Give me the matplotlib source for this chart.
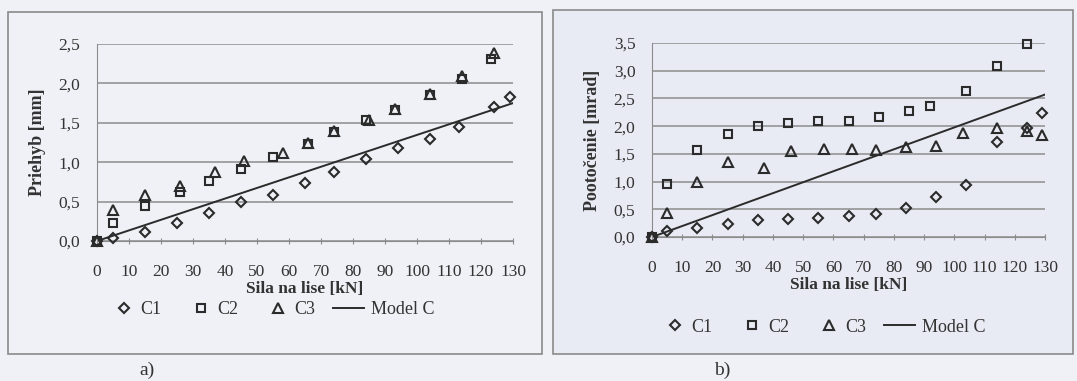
import numpy as np
import matplotlib
matplotlib.use("Agg")
import matplotlib.pyplot as plt
from matplotlib.patches import Rectangle
from matplotlib.legend_handler import HandlerLine2D
from matplotlib.ticker import FuncFormatter, MultipleLocator

plt.rcParams['font.family'] = ['Liberation Serif', 'DejaVu Serif']

# a) priehyb [mm]
a_c1_x = [0, 5, 15, 25, 35, 45, 55, 65, 74, 84, 94, 104, 113, 124, 129]
a_c1_y = [0, 0.04, 0.12, 0.23, 0.36, 0.49, 0.59, 0.74, 0.88, 1.04, 1.18, 1.29, 1.45, 1.70, 1.83]
a_c2_x = [0, 5, 15, 26, 35, 45, 55, 66, 74, 84, 93, 104, 114, 123]
a_c2_y = [0, 0.23, 0.45, 0.62, 0.76, 0.92, 1.06, 1.23, 1.38, 1.53, 1.66, 1.85, 2.05, 2.31]
a_c3_x = [0, 5, 15, 26, 37, 46, 58, 66, 74, 85, 93, 104, 114, 124]
a_c3_y = [0, 0.39, 0.59, 0.70, 0.88, 1.01, 1.12, 1.24, 1.40, 1.53, 1.68, 1.86, 2.09, 2.38]
a_model_x = [0, 130]
a_model_y = [0, 1.75]

# b) pootocenie [mrad]
b_c1_x = [0, 5, 15, 25, 35, 45, 55, 65, 74, 84, 94, 104, 114, 124, 129]
b_c1_y = [0, 0.10, 0.16, 0.24, 0.30, 0.33, 0.35, 0.38, 0.42, 0.52, 0.72, 0.94, 1.72, 1.97, 2.23]
b_c2_x = [0, 5, 15, 25, 35, 45, 55, 65, 75, 85, 92, 104, 114, 124]
b_c2_y = [0, 0.96, 1.57, 1.86, 2.00, 2.06, 2.10, 2.10, 2.16, 2.27, 2.36, 2.64, 3.08, 3.48]
b_c3_x = [0, 5, 15, 25, 37, 46, 57, 66, 74, 84, 94, 103, 114, 124, 129]
b_c3_y = [0, 0.43, 1.00, 1.36, 1.24, 1.56, 1.59, 1.59, 1.57, 1.63, 1.64, 1.87, 1.96, 1.91, 1.84]
b_model_x = [0, 130]
b_model_y = [0, 2.57]

W, H = 1077, 381
bg = '#f0f1f7'
bg_right = '#e9ebf4'
ink = '#2b2b2b'
txt = '#333333'
grid = '#8c8c8c'

fig = plt.figure(figsize=(W / 100, H / 100), dpi=100, facecolor=bg)


class LongLine(HandlerLine2D):
    # legend line reaching left into the column gap
    def create_artists(self, legend, orig_handle, xdescent, ydescent,
                       width, height, fontsize, trans):
        extra = width * 0.7
        return super().create_artists(legend, orig_handle, xdescent + extra,
                                      ydescent, width + extra, height,
                                      fontsize, trans)


def px_rect(x0, y0, x1, y1):
    # pixel box (top-left origin) -> figure fraction
    return [x0 / W, 1 - y1 / H, (x1 - x0) / W, (y1 - y0) / H]


def comma(v, pos):
    return f'{v:.1f}'.replace('.', ',')


def panel(box, ax_box, ymax, ylabel, series, model, legend_xy, tag, tag_xy, face):
    x0, y0, x1, y1 = box
    fig.patches.append(Rectangle((x0 / W, 1 - y1 / H), (x1 - x0) / W, (y1 - y0) / H,
                                 transform=fig.transFigure, facecolor=face,
                                 edgecolor='#8a8a8a', linewidth=1.2, zorder=-1))
    ax = fig.add_axes(px_rect(*ax_box))
    ax.set_zorder(2)
    ax.set_facecolor('none')
    for (xs, ys, m, ms, lab) in series:
        ax.plot(xs, ys, linestyle='none', marker=m, markersize=ms,
                markerfacecolor='none', markeredgecolor=ink, markeredgewidth=1.5,
                label=lab, clip_on=False, zorder=3)
    line, = ax.plot(model[0], model[1], color=ink, linewidth=1.4, label='Model C', zorder=2)
    ax.set_xlim(0, 130)
    ax.set_ylim(0, ymax)
    ax.xaxis.set_major_locator(MultipleLocator(10))
    ax.yaxis.set_major_locator(MultipleLocator(0.5))
    ax.yaxis.set_major_formatter(FuncFormatter(comma))
    ax.grid(axis='y', color=grid, linewidth=1.1)
    ax.set_axisbelow(True)
    for s in ('top', 'right'):
        ax.spines[s].set_visible(False)
    ax.spines['left'].set_color(grid)
    ax.spines['bottom'].set_color(grid)
    ax.tick_params(axis='x', direction='inout', length=5, color=grid,
                   labelsize=12.5, labelcolor=txt, pad=14)
    ax.tick_params(axis='y', length=0, labelsize=12.5, labelcolor=txt, pad=12)
    ax.set_xlabel('Sila na lise [kN]', fontsize=12.5, fontweight='bold',
                  color=txt, labelpad=1)
    ax.set_ylabel(ylabel, fontsize=13, fontweight='bold', color=txt, labelpad=9)
    leg = fig.legend(handles=ax.get_lines(), loc='center',
                     bbox_to_anchor=(legend_xy[0] / W, 1 - legend_xy[1] / H),
                     ncol=4, frameon=False, fontsize=13, handlelength=1.0,
                     columnspacing=1.7, handletextpad=0.4, labelcolor=txt,
                     handler_map={line: LongLine()})
    leg.set_zorder(3)
    fig.text(tag_xy[0] / W, 1 - tag_xy[1] / H, tag, fontsize=14, color=txt,
             ha='center', va='center')
    return ax


panel((8, 12, 542, 354), (97, 44, 513, 241), 2.5, 'Priehyb [mm]',
      [(a_c1_x, a_c1_y, 'D', 5, 'C1'),
       (a_c2_x, a_c2_y, 's', 6, 'C2'),
       (a_c3_x, a_c3_y, '^', 7, 'C3')],
      (a_model_x, a_model_y), (275, 310), 'a)', (147, 370), bg)

panel((553, 10, 1073, 354), (652, 43, 1045, 237), 3.5, 'Pootočenie [mrad]',
      [(b_c1_x, b_c1_y, 'D', 5, 'C1'),
       (b_c2_x, b_c2_y, 's', 6, 'C2'),
       (b_c3_x, b_c3_y, '^', 7, 'C3')],
      (b_model_x, b_model_y), (826, 327), 'b)', (722, 370), bg_right)

fig.savefig('out.png', dpi=100, facecolor=bg)
